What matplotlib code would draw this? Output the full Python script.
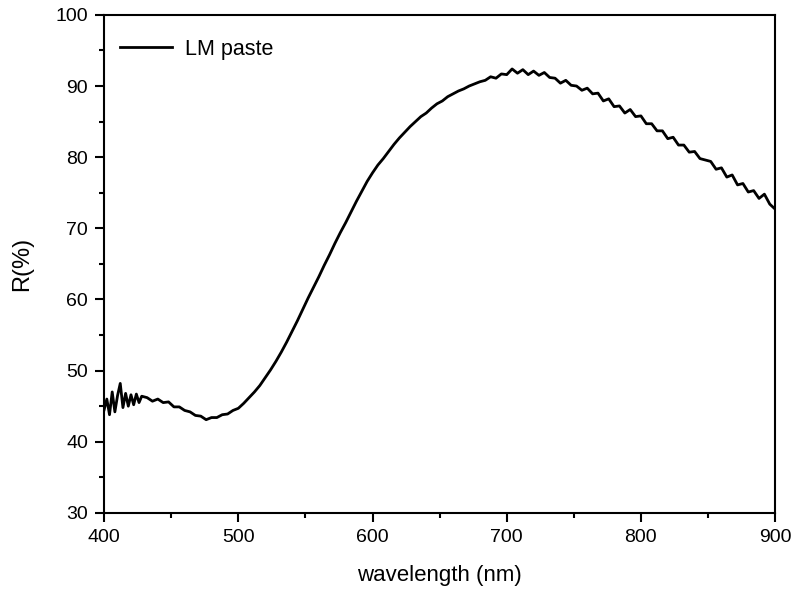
import numpy as np
import matplotlib
matplotlib.use("Agg")
import matplotlib.pyplot as plt
from matplotlib.ticker import MultipleLocator

plt.rcParams['font.family'] = ['Liberation Sans', 'DejaVu Sans']

# Reflectance spectrum of the LM paste
wl_start = [400, 402, 404, 406, 408, 410, 412, 414, 416, 418, 420, 422, 424, 426, 428]
r_start = [44.5, 46.0, 43.8, 47.0, 44.2, 46.5, 48.2, 44.8, 46.8, 45.0, 46.6, 45.2, 46.7, 45.5, 46.4]

wl_main = list(range(432, 901, 4))
r_main = [
    46.2, 45.7, 46.0, 45.5, 45.6, 44.9, 44.9, 44.4, 44.2, 43.7,
    43.6, 43.1, 43.4, 43.4, 43.8, 43.9, 44.4, 44.7, 45.4, 46.2,
    47.0, 47.9, 49.0, 50.1, 51.3, 52.6, 54.0, 55.5, 57.0, 58.6,
    60.2, 61.7, 63.2, 64.8, 66.3, 67.9, 69.4, 70.8, 72.3, 73.8,
    75.2, 76.6, 77.8, 78.9, 79.8, 80.8, 81.8, 82.7, 83.5, 84.3,
    85.0, 85.7, 86.2, 86.9, 87.5, 87.9, 88.5, 88.9, 89.3, 89.6,
    90.0, 90.3, 90.6, 90.8, 91.3, 91.1, 91.7, 91.6, 92.4, 91.8,
    92.3, 91.6, 92.1, 91.5, 91.9, 91.2, 91.1, 90.4, 90.8, 90.1,
    90.0, 89.4, 89.7, 88.9, 89.0, 87.9, 88.2, 87.1, 87.2, 86.2,
    86.7, 85.7, 85.8, 84.7, 84.7, 83.7, 83.7, 82.6, 82.8, 81.7,
    81.7, 80.7, 80.8, 79.8, 79.6, 79.4, 78.3, 78.5, 77.2, 77.5,
    76.1, 76.3, 75.1, 75.3, 74.2, 74.8, 73.4, 72.7,
]

wavelength = np.array(wl_start + wl_main)
reflectance = np.array(r_start + r_main)

fig = plt.figure(figsize=(7.95, 5.95), dpi=100)
ax = fig.add_axes([0.131, 0.138, 0.844, 0.837])

ax.plot(wavelength, reflectance, color='black', lw=2.0, label='LM paste')

ax.set_xlim(400, 900)
ax.set_ylim(30, 100)
ax.xaxis.set_major_locator(MultipleLocator(100))
ax.xaxis.set_minor_locator(MultipleLocator(50))
ax.yaxis.set_major_locator(MultipleLocator(10))
ax.yaxis.set_minor_locator(MultipleLocator(5))

ax.tick_params(which='both', direction='out', top=False, right=False,
               width=1.5, labelsize=14, colors='black', pad=5)
ax.tick_params(which='major', length=6.5)
ax.tick_params(which='minor', length=3.5)
for s in ax.spines.values():
    s.set_linewidth(1.5)

ax.set_xlabel('wavelength (nm)', fontsize=16, labelpad=14)
ax.set_ylabel('R(%)', fontsize=17, labelpad=16)

ax.legend(loc='upper left', bbox_to_anchor=(-0.011, 1.0), frameon=False,
          fontsize=15.5, handlelength=2.4, borderaxespad=0.7, handletextpad=0.6)

fig.savefig('out.png', dpi=100)
